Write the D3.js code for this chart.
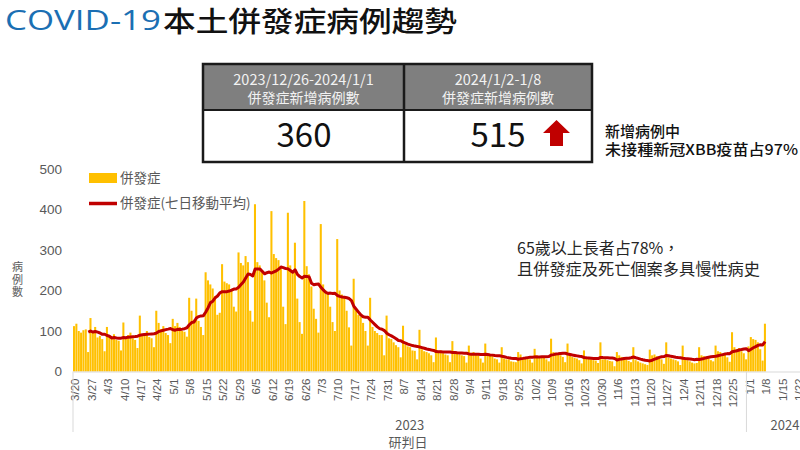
<!DOCTYPE html>
<meta charset="utf-8">
<title>COVID-19本土併發症病例趨勢</title>
<style>
    body { margin: 0; background: #fff; }
    svg { display: block; font-family: "Noto Sans CJK TC", "Noto Sans", sans-serif; }
    .tick text { fill: #595959; }
</style>
<svg width="800" height="450"></svg>
<script src="https://d3js.org/d3.v7.min.js"></script>
<script>

    // daily cases, one row per week (Mon..Sun), starting 2023/3/20
    var cases = [
        112, 118, 100, 96, 102, 104, 48,
        132, 100, 110, 84, 88, 80, 50,
        110, 88, 80, 92, 78, 76, 52,
        121, 85, 90, 96, 82, 78, 58,
        138, 92, 95, 100, 85, 82, 60,
        150, 120, 105, 112, 95, 90, 70,
        130, 112, 120, 110, 100, 98, 86,
        182, 150, 128, 180, 125, 110, 90,
        245, 225, 215, 205, 185, 140, 145,
        265, 222, 218, 215, 200, 160, 148,
        294, 268, 262, 285, 270, 150, 123,
        413, 270, 262, 245, 225, 170, 134,
        396, 290, 280, 275, 260, 160, 117,
        392, 262, 250, 318, 180, 122, 93,
        421, 260, 240, 210, 155, 130, 96,
        364, 215, 200, 190, 160, 122, 100,
        327, 200, 190, 185, 150, 109, 64,
        229, 150, 140, 135, 120, 100, 64,
        182, 110, 100, 95, 90, 90, 40,
        138, 82, 80, 72, 65, 60, 35,
        113, 66, 62, 60, 52, 51, 30,
        103, 55, 50, 48, 45, 40, 23,
        84, 50, 52, 45, 42, 40, 23,
        75, 50, 48, 42, 40, 38, 22,
        64, 46, 48, 42, 40, 32, 22,
        69, 40, 42, 38, 32, 30, 22,
        60, 32, 30, 30, 25, 24, 23,
        48, 42, 35, 36, 32, 30, 22,
        56, 40, 36, 38, 34, 30, 25,
        81, 48, 45, 42, 40, 36, 23,
        69, 40, 36, 34, 32, 28, 20,
        52, 34, 32, 30, 28, 27, 21,
        72, 30, 30, 28, 26, 25, 13,
        48, 40, 36, 35, 30, 26, 23,
        60, 28, 25, 22, 20, 18, 16,
        54, 40, 42, 38, 36, 30, 19,
        72, 35, 32, 30, 28, 25, 16,
        64, 30, 28, 25, 22, 20, 21,
        60, 40, 38, 36, 32, 28, 25,
        64, 50, 48, 45, 42, 35, 24,
        97, 60, 55, 58, 50, 45, 30,
        62, 85, 80, 78, 72, 55, 27,
        118
    ];

    // weekly tick labels (every 7th day)
    var tickLabels = ["3/20", "3/27", "4/3", "4/10", "4/17", "4/24", "5/1", "5/8", "5/15", "5/22",
        "5/29", "6/5", "6/12", "6/19", "6/26", "7/3", "7/10", "7/17", "7/24", "7/31",
        "8/7", "8/14", "8/21", "8/28", "9/4", "9/11", "9/18", "9/25", "10/2", "10/9",
        "10/16", "10/23", "10/30", "11/6", "11/13", "11/20", "11/27", "12/4", "12/11", "12/18",
        "12/25", "1/1", "1/8", "1/15", "1/22"];

    var yTicks = [0, 100, 200, 300, 400, 500];
    var years = ["2023", "2024"];
    var yearStart = [0, 287];   // day index where each year starts (1/1 = 287)
    var totalDays = 319;

    var tableHead = [["2023/12/26-2024/1/1", "併發症新增病例數"], ["2024/1/2-1/8", "併發症新增病例數"]];
    var tableValues = ["360", "515"];

    var svg = d3.select("svg");

    // title
    svg.append("text").attr("x", 5).attr("y", 30)
        .attr("font-family", "'Open Sans', sans-serif").attr("font-size", 27)
        .attr("fill", "#1b6fb3").attr("textLength", 156).attr("lengthAdjust", "spacingAndGlyphs")
        .text("COVID-19");
    svg.append("text").attr("x", 163).attr("y", 32)
        .attr("font-size", 28).attr("font-weight", 500).attr("fill", "#111")
        .attr("textLength", 294).attr("lengthAdjust", "spacingAndGlyphs")
        .text("本土併發症病例趨勢");

    var x = d3.scaleBand()
        .domain(d3.range(totalDays))
        .range([73, 73 + totalDays * 2.35])
        .paddingInner(0);

    var y = d3.scaleLinear().domain([0, 500]).range([371.5, 169]);

    var cx = function (i) { return x(i) + x.bandwidth() / 2; };

    // bars
    svg.append("g")
        .selectAll("rect")
        .data(cases)
        .enter().append("rect")
        .attr("x", function (d, i) { return x(i); })
        .attr("width", x.bandwidth() - 0.3)
        .attr("y", function (d) { return y(d); })
        .attr("height", function (d) { return y(0) - y(d); })
        .attr("fill", "#ffc000");

    // 7 day moving average
    var avg = [];
    for (var i = 6; i < cases.length; i++) {
        avg.push({ i: i, v: d3.mean(cases.slice(i - 6, i + 1)) });
    }
    svg.append("path")
        .datum(avg)
        .attr("fill", "none")
        .attr("stroke", "#c00000")
        .attr("stroke-width", 3)
        .attr("stroke-linejoin", "round")
        .attr("d", d3.line().x(function (d) { return cx(d.i); }).y(function (d) { return y(d.v); }));

    // y axis (labels only)
    var yAxis = svg.append("g")
        .attr("transform", "translate(62,0)")
        .call(d3.axisLeft(y).tickValues(yTicks).tickSize(0).tickPadding(0));
    yAxis.select(".domain").remove();
    yAxis.selectAll("text").attr("font-size", 13.5);

    // x axis
    var xAxis = svg.append("g")
        .attr("transform", "translate(0," + y(0) + ")")
        .call(d3.axisBottom(x)
            .tickValues(d3.range(0, tickLabels.length * 7, 7))
            .tickFormat(function (d) { return tickLabels[d / 7]; })
            .tickSize(0));
    xAxis.select(".domain").attr("stroke", "#d9d9d9");
    xAxis.selectAll("text")
        .attr("font-size", 11.5)
        .attr("text-anchor", "end")
        .attr("transform", "translate(1,7) rotate(-90)")
        .attr("x", 0).attr("y", 0).attr("dy", "0.35em");

    // year separators and labels
    var sep = [73, x(yearStart[1]) - 1];
    sep.forEach(function (sx) {
        svg.append("line").attr("x1", sx).attr("x2", sx).attr("y1", y(0)).attr("y2", 432)
            .attr("stroke", "#d9d9d9");
    });
    svg.append("text").attr("x", (sep[0] + sep[1]) / 2).attr("y", 430)
        .attr("text-anchor", "middle").attr("font-size", 13).attr("fill", "#595959").text(years[0]);
    svg.append("text").attr("x", 785).attr("y", 430)
        .attr("text-anchor", "middle").attr("font-size", 13).attr("fill", "#595959").text(years[1]);
    svg.append("text").attr("x", 408).attr("y", 447)
        .attr("text-anchor", "middle").attr("font-size", 13).attr("fill", "#595959").text("研判日");

    // y label stacked
    ["病", "例", "數"].forEach(function (c, k) {
        svg.append("text").attr("x", 17.5).attr("y", 271 + k * 12.5)
            .attr("text-anchor", "middle").attr("font-size", 11).attr("fill", "#595959").text(c);
    });

    // legend
    svg.append("rect").attr("x", 89).attr("y", 173).attr("width", 28).attr("height", 10).attr("fill", "#ffc000");
    svg.append("text").attr("x", 120).attr("y", 183).attr("font-size", 13.5).attr("fill", "#595959").text("併發症");
    svg.append("line").attr("x1", 89).attr("x2", 117).attr("y1", 203.5).attr("y2", 203.5)
        .attr("stroke", "#c00000").attr("stroke-width", 3.5);
    svg.append("text").attr("x", 120).attr("y", 208).attr("font-size", 13.5).attr("fill", "#595959").text("併發症(七日移動平均)");

    // table
    var tx = [203, 404, 592];
    var tbl = svg.append("g");
    tbl.append("rect").attr("x", tx[0]).attr("y", 64).attr("width", tx[2] - tx[0]).attr("height", 46).attr("fill", "#7f7f7f");
    tbl.append("rect").attr("x", tx[0]).attr("y", 110).attr("width", tx[2] - tx[0]).attr("height", 52).attr("fill", "#fff");
    tableHead.forEach(function (h, k) {
        var mid = (tx[k] + tx[k + 1]) / 2;
        tbl.append("text").attr("x", mid).attr("y", 85).attr("text-anchor", "middle")
            .attr("font-size", 14.5).attr("fill", "#f2f2f2").text(h[0]);
        tbl.append("text").attr("x", mid).attr("y", 103).attr("text-anchor", "middle")
            .attr("font-size", 14).attr("fill", "#f2f2f2").text(h[1]);
    });
    tbl.append("text").attr("x", 304).attr("y", 147).attr("text-anchor", "middle")
        .attr("font-size", 33).attr("fill", "#111").text(tableValues[0]);
    tbl.append("text").attr("x", 498).attr("y", 147).attr("text-anchor", "middle")
        .attr("font-size", 33).attr("fill", "#111").text(tableValues[1]);
    tbl.append("rect").attr("x", tx[0]).attr("y", 64).attr("width", tx[2] - tx[0]).attr("height", 98)
        .attr("fill", "none").attr("stroke", "#1a1a1a").attr("stroke-width", 2.5);
    tbl.append("line").attr("x1", tx[1]).attr("x2", tx[1]).attr("y1", 64).attr("y2", 162)
        .attr("stroke", "#1a1a1a").attr("stroke-width", 2.5);
    tbl.append("line").attr("x1", tx[0]).attr("x2", tx[2]).attr("y1", 110).attr("y2", 110)
        .attr("stroke", "#1a1a1a").attr("stroke-width", 2);

    // red up arrow
    svg.append("path")
        .attr("d", "M556.5,120 L570,133 L563,133 L563,146 L550,146 L550,133 L543,133 Z")
        .attr("fill", "#c00000");

    // notes
    svg.append("text").attr("x", 605).attr("y", 137).attr("font-size", 15).attr("font-weight", 500)
        .attr("fill", "#111").text("新增病例中");
    svg.append("text").attr("x", 605).attr("y", 155).attr("font-size", 15).attr("font-weight", 500)
        .attr("fill", "#111").attr("textLength", 193).attr("lengthAdjust", "spacingAndGlyphs")
        .text("未接種新冠XBB疫苗占97%");
    svg.append("text").attr("x", 517).attr("y", 254).attr("font-size", 16)
        .attr("fill", "#262626").text("65歲以上長者占78%，");
    svg.append("text").attr("x", 517).attr("y", 275).attr("font-size", 16)
        .attr("fill", "#262626").attr("textLength", 243).attr("lengthAdjust", "spacingAndGlyphs")
        .text("且併發症及死亡個案多具慢性病史");

</script>
